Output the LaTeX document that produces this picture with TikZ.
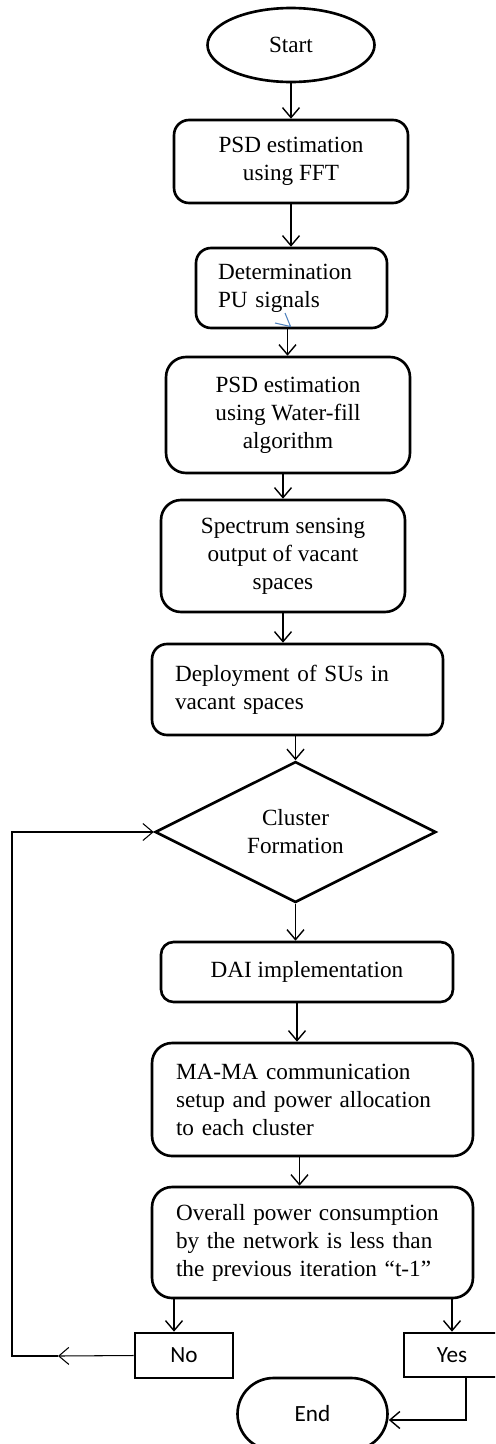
\documentclass[tikz,border=0pt]{standalone}
\usepackage{fontspec}
\setmainfont{Liberation Serif}
\newfontfamily\calibri{Carlito}
\usetikzlibrary{arrows.meta,shapes.geometric,shapes.misc}
\definecolor{penblue}{HTML}{4F81BD}

\begin{document}
\begin{tikzpicture}[
    x=0.02cm, y=-0.02cm,
    font=\fontsize{13.2pt}{15.9pt}\selectfont,
    box/.style={rectangle, draw, line width=1.5pt, rounded corners=0.3cm, align=center, inner sep=0pt},
    leftbox/.style={box, align=left, inner xsep=0.46cm},
    terminal/.style={ellipse, draw, line width=1.5pt, inner sep=0pt},
    decision/.style={diamond, draw, line width=1.5pt, align=center, inner sep=0pt},
    answer/.style={rectangle, draw, line width=1.5pt, inner sep=0pt, font=\calibri\fontsize{13.2pt}{15.9pt}\selectfont},
    arrow/.style={-{Straight Barb[length=0.2cm, width=0.34cm]}, line width=0.8pt},
    loopline/.style={arrow, line width=0.6pt}
]
    \path[use as bounding box, clip] (0,0) rectangle (495,1444);

    % Main flow
    \node[terminal, minimum width=3.34cm, minimum height=1.48cm] (start) at (291,45) {Start};
    \node[box, minimum width=4.68cm, minimum height=1.66cm] (fft) at (291,161.5) {PSD estimation\\using FFT};
    \node[leftbox, text width=2.94cm, inner xsep=0.44cm, minimum height=1.6cm] (detect) at (291.5,288) {Determination\\PU signals};
    \node[box, rounded corners=0.4cm, minimum width=4.88cm, minimum height=2.32cm] (water) at (288,415) {PSD estimation\\using Water-fill\\algorithm};
    \node[box, rounded corners=0.4cm, minimum width=4.88cm, minimum height=2.24cm] (sensing) at (283,556) {Spectrum sensing\\output of vacant\\spaces};
    \node[leftbox, text width=4.9cm, minimum height=1.82cm] (deploy) at (297.5,689.5) {Deployment of SUs in\\vacant spaces};
    \node[decision, minimum width=5.62cm, minimum height=2.72cm] (cluster) at (295.5,832) {Cluster\\Formation};
    \node[box, rounded corners=0.25cm, minimum width=5.84cm, minimum height=1.2cm] (dai) at (307,972) {DAI implementation};
    \node[leftbox, rounded corners=0.4cm, text width=5.46cm, inner xsep=0.48cm, minimum height=2.26cm] (mama) at (312.5,1099.5) {MA-MA communication\\setup and power allocation\\to each cluster};
    \node[leftbox, rounded corners=0.4cm, text width=5.46cm, inner xsep=0.48cm, minimum height=2.22cm] (overall) at (312.5,1242.5) {Overall power consumption\\by the network is less than\\the previous iteration “t-1”};

    % Answers
    \node[answer, minimum width=1.96cm, minimum height=0.9cm] (no) at (184,1355.5) {No};
    \node[answer, minimum width=1.92cm, minimum height=0.88cm] (yes) at (452,1355) {Yes};
    \node[draw, rounded rectangle, line width=1.5pt, inner sep=0pt, minimum width=3cm, minimum height=1.44cm, font=\calibri\fontsize{13.2pt}{15.9pt}\selectfont] (finish) at (312.5,1414) {End};

    % Arrows
    \draw[arrow] (start) -- (fft);
    \draw[arrow] (fft.south) -- (fft.south |- detect.north);
    \draw[arrow] ([shift={(-4,0)}]detect.south) -- ([shift={(-4,0)}]detect.south |- water.north);
    \draw[arrow] ([shift={(-5,0)}]water.south) -- ([shift={(-5,0)}]water.south |- sensing.north);
    \draw[arrow] (sensing.south) -- (sensing.south |- deploy.north);
    \draw[arrow] (cluster.north |- deploy.south) -- (cluster.north);
    \draw[arrow] (cluster.south) -- (cluster.south |- dai.north);
    \draw[arrow] ([shift={(-10,0)}]dai.south) -- ([shift={(-10,0)}]dai.south |- mama.north);
    \draw[arrow] ([shift={(-13,0)}]mama.south) -- ([shift={(-13,0)}]mama.south |- overall.north);
    \draw[arrow] ([shift={(-10,0)}]no.north |- overall.south) -- ([shift={(-10,0)}]no.north);
    \draw[arrow] (yes.north |- overall.south) -- (yes.north);
    \draw[arrow] ([shift={(14,0)}]yes.south) |- ([shift={(0,6)}]finish.east);

    % Loop back to cluster formation
    \coordinate (loopcorner) at (12,1356);
    \draw[loopline] (no.west) -- ([shift={(46,0)}]loopcorner);
    \draw[loopline] ([shift={(46,0)}]loopcorner) -- (loopcorner) |- (cluster.west);

    % stray pen mark
    \draw[penblue, line width=0.6pt] (275,323) -- (290.5,326.5) -- (285,313);
\end{tikzpicture}
\end{document}
